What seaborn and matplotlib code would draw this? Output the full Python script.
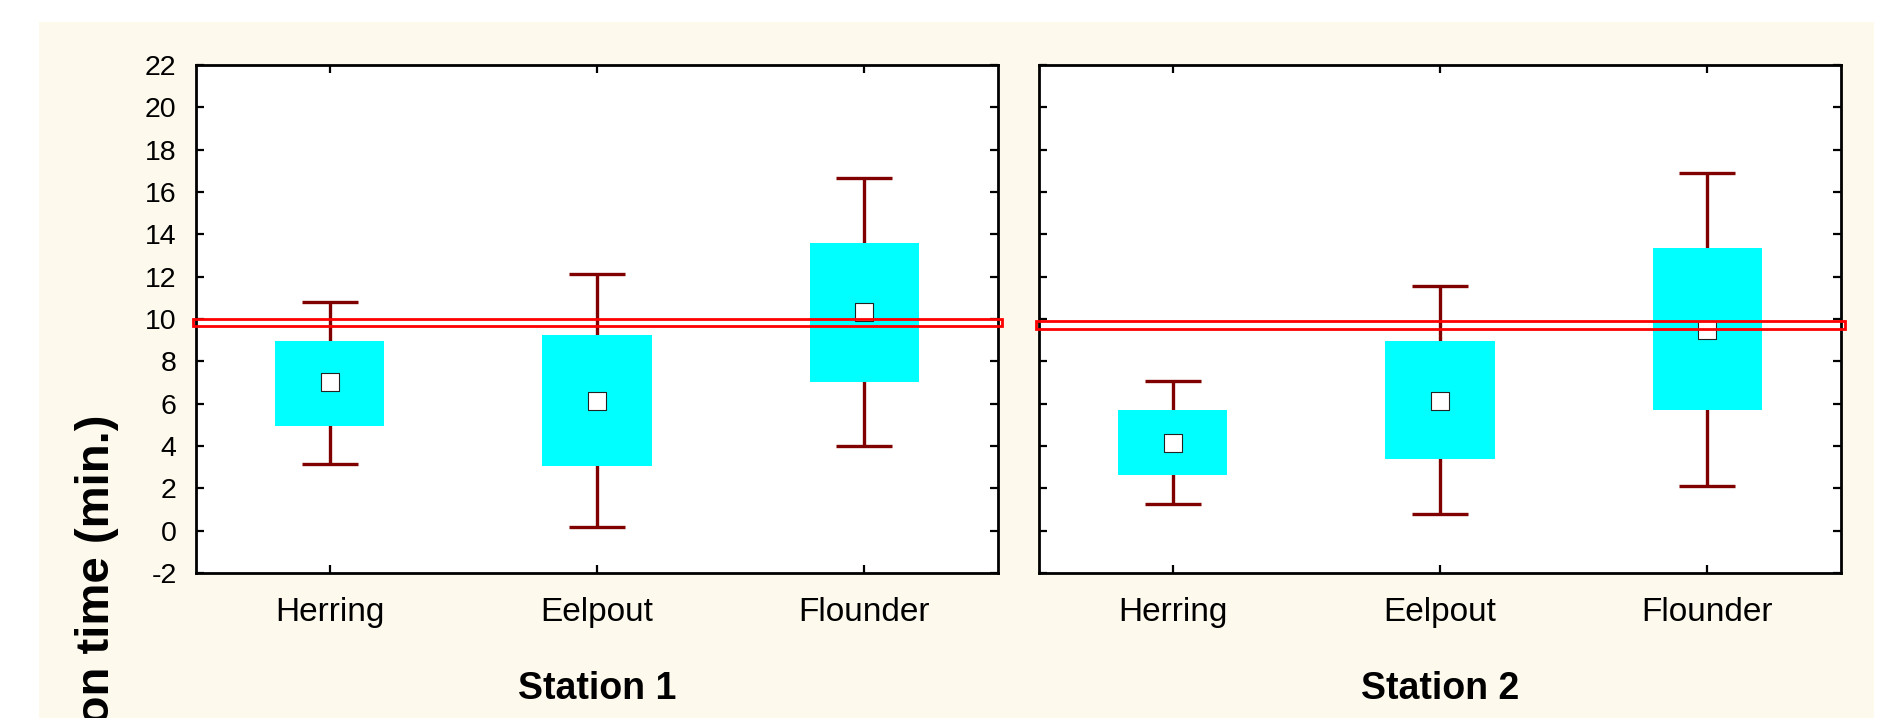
import matplotlib
matplotlib.use("Agg")
import matplotlib.pyplot as plt
import matplotlib.transforms as mtransforms
from matplotlib.patches import Rectangle
import numpy as np
import pandas as pd
import seaborn as sns

# ---- data -------------------------------------------------------------
species = ["Herring", "Eelpout", "Flounder"]
stations = ["Station 1", "Station 2"]

mean_s1 = [7.02, 6.11, 10.32]
box_lo_s1 = [4.95, 3.06, 7.02]
box_hi_s1 = [8.97, 9.25, 13.59]
whisk_lo_s1 = [3.17, 0.18, 3.99]
whisk_hi_s1 = [10.78, 12.13, 16.66]

mean_s2 = [4.13, 6.11, 9.49]
box_lo_s2 = [2.62, 3.38, 5.69]
box_hi_s2 = [5.69, 8.94, 13.34]
whisk_lo_s2 = [1.27, 0.78, 2.12]
whisk_hi_s2 = [7.05, 11.55, 16.91]

reference_level = [9.84, 9.73]

y_ticks = list(range(-2, 23, 2))
y_label = "Detection time (min.)"

# ---- style ------------------------------------------------------------
sns.set_style("ticks")
plt.rcParams["font.family"] = ["Liberation Sans", "DejaVu Sans"]
plt.rcParams.update({
    "text.color": "black",
    "axes.labelcolor": "black",
    "xtick.color": "black",
    "ytick.color": "black",
    "axes.unicode_minus": False,
})

W, H = 1892, 718
fig = plt.figure(figsize=(W / 100, H / 100), dpi=100, facecolor="white")

# cream panel behind the plots
fig.add_artist(Rectangle((39 / W, 0), (1874 - 39) / W, (H - 22) / H,
                         transform=fig.transFigure, facecolor="#FDF9EC",
                         edgecolor="none", zorder=0))

ax_bottom = (H - 573) / H
ax_height = (573 - 65) / H
ax_width = 802 / W
axes = [fig.add_axes([196 / W, ax_bottom, ax_width, ax_height]),
        fig.add_axes([1039 / W, ax_bottom, ax_width, ax_height])]

groups = [
    (mean_s1, box_lo_s1, box_hi_s1, whisk_lo_s1, whisk_hi_s1),
    (mean_s2, box_lo_s2, box_hi_s2, whisk_lo_s2, whisk_hi_s2),
]

box_color = "#00FFFF"
whisk_color = "#800000"
pos = np.arange(len(species))

for i, (ax, station, grp) in enumerate(zip(axes, stations, groups)):
    mean, blo, bhi, wlo, whi = (np.asarray(g, dtype=float) for g in grp)
    ax.set_facecolor("white")

    # whiskers with caps
    ax.vlines(pos, wlo, whi, color=whisk_color, lw=2.4, zorder=1)
    ax.hlines(wlo, pos - 0.105, pos + 0.105, color=whisk_color, lw=2.4, zorder=1)
    ax.hlines(whi, pos - 0.105, pos + 0.105, color=whisk_color, lw=2.4, zorder=1)

    # boxes
    ax.bar(pos, bhi - blo, bottom=blo, width=0.41, color=box_color,
           linewidth=0, zorder=2)

    # mean markers
    df = pd.DataFrame({"pos": pos, "mean": mean})
    sns.scatterplot(data=df, x="pos", y="mean", marker="s", s=150,
                    color="white", edgecolor="#222222", linewidth=0.8,
                    ax=ax, zorder=3, legend=False)

    # reference level drawn as a hollow red band
    trans = mtransforms.blended_transform_factory(ax.transAxes, ax.transData)
    ax.add_patch(Rectangle((-0.004, reference_level[i] - 0.18), 1.009, 0.36,
                           transform=trans, fill=False, edgecolor="#FF0000",
                           lw=2.0, clip_on=False, zorder=5))

    ax.set_xlim(-0.5, 2.5)
    ax.set_ylim(-2, 22)
    ax.set_yticks(y_ticks)
    ax.set_xticks(pos)
    ax.set_xticklabels(species)
    ax.set_ylabel("")
    ax.set_xlabel(station, fontsize=27, fontweight="bold", labelpad=31)

    ax.tick_params(axis="both", direction="in", length=6, width=1.6,
                   top=True, right=True, color="black")
    ax.tick_params(axis="x", labelsize=24, pad=17)
    ax.tick_params(axis="y", labelsize=20.5, pad=14)
    if i == 1:
        ax.tick_params(axis="y", labelleft=False)

    for sp in ax.spines.values():
        sp.set_visible(True)
        sp.set_linewidth(2.0)
        sp.set_color("black")

fig.text(97 / W, 1 - 414 / H, y_label, rotation=90, ha="center", va="top",
         fontsize=34, fontweight="bold")

fig.savefig("out.png", dpi=100)
